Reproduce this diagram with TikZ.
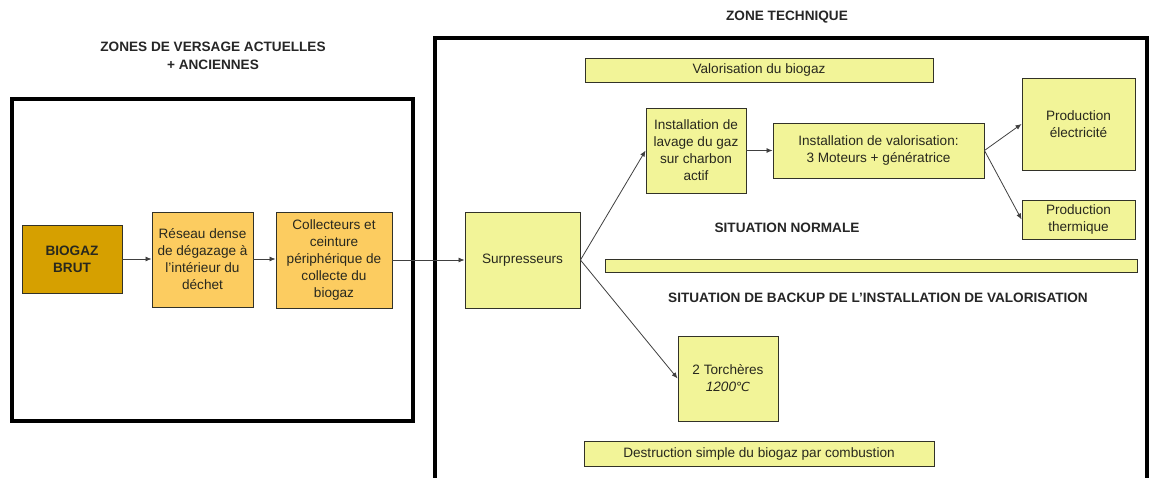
\documentclass[tikz,border=0pt]{standalone}
\usepackage{fontspec}
\setmainfont{Liberation Sans}
\newfontfamily\djvfont{DejaVu Sans}
\usetikzlibrary{arrows.meta}
\definecolor{brutfill}{RGB}{214,160,0}
\definecolor{orfill}{RGB}{252,204,96}
\definecolor{yefill}{RGB}{242,244,152}
\definecolor{edge}{RGB}{50,50,40}
\definecolor{txt}{RGB}{40,40,30}
\begin{document}
\begin{tikzpicture}[x=1pt,y=1pt,
  every node/.style={font=\fontsize{13.6}{17}\selectfont, text=txt},
  box/.style={draw=edge, line width=0.9pt, inner sep=0pt, align=center},
  brutbox/.style={box, fill=brutfill},
  orbox/.style={box, fill=orfill},
  yebox/.style={box, fill=yefill},
  title/.style={font=\bfseries\fontsize{13.6}{18}\selectfont, text=black!85, align=center},
  conn/.style={draw=black!75, line width=0.8pt, -{Latex[length=6pt,width=5pt]}},
  zone/.style={draw=black, line width=4pt}
]
\clip (0,0) rectangle (1154,-478);
\fill[white] (0,0) rectangle (1154,-478);

% outer zones
\draw[zone] (12,-99) rectangle (413,-421);
\draw[zone] (435,-38.5) rectangle (1147,-520);

% titles
\node[title] (t1) at (213,-56) {ZONES DE VERSAGE ACTUELLES\\+ ANCIENNES};
\node[title] (t2) at (787,-17) {ZONE TECHNIQUE};
\node[title] (t3) at (787,-228) {SITUATION NORMALE};
\node[title] (t4) at (878,-298) {SITUATION DE BACKUP DE L'INSTALLATION DE VALORISATION};

% left boxes
\node[brutbox, minimum width=100, minimum height=68, font=\bfseries\fontsize{13.6}{17}\selectfont] (brut) at (72,-259) {BIOGAZ\\BRUT};
\node[orbox, minimum width=101, minimum height=95] (reseau) at (202.5,-259.5) {Réseau dense\\de dégazage à\\l'intérieur du\\déchet};
\node[orbox, minimum width=116, minimum height=96] (collect) at (334,-260) {Collecteurs et\\ceinture\\périphérique de\\collecte du\\biogaz};

% technical zone
\node[yebox, minimum width=115, minimum height=96] (surp) at (522.5,-260) {Surpresseurs};
\node[yebox, minimum width=348, minimum height=24] (valbio) at (759,-70) {Valorisation du biogaz};
\node[yebox, minimum width=100, minimum height=85] (lavage) at (696,-150.5) {Installation de\\lavage du gaz\\sur charbon\\actif};
\node[yebox, minimum width=211, minimum height=55] (valinst) at (878.5,-150.5) {Installation de valorisation:\\3 Moteurs + génératrice};
\node[yebox, minimum width=113, minimum height=92] (elec) at (1078.5,-124) {Production\\électricité};
\node[yebox, minimum width=113, minimum height=39] (therm) at (1078.5,-219.5) {Production\\thermique};
\node[yebox, minimum width=532, minimum height=13] (sep) at (871,-265.5) {};
\node[yebox, minimum width=100, minimum height=85] (torch) at (728,-378.5) {2 Torchères\\\textit{1200}{\djvfont\itshape\fontsize{12.5}{17}\selectfont ℃}};
\node[yebox, minimum width=350, minimum height=25] (destr) at (759,-453.5) {Destruction simple du biogaz par combustion};

% connectors
\draw[conn] (brut.east) -- (reseau.west |- brut.east);
\draw[conn] (reseau.east |- brut.east) -- (collect.west |- brut.east);
\draw[conn] (collect.east) -- (surp.west);
\draw[conn] (surp.east) -- (lavage.west);
\draw[conn] (surp.east) -- (torch.west);
\draw[conn] (lavage.east) -- (valinst.west);
\draw[conn] (valinst.east) -- (elec.west);
\draw[conn] (valinst.east) -- (therm.west);
\end{tikzpicture}
\end{document}
